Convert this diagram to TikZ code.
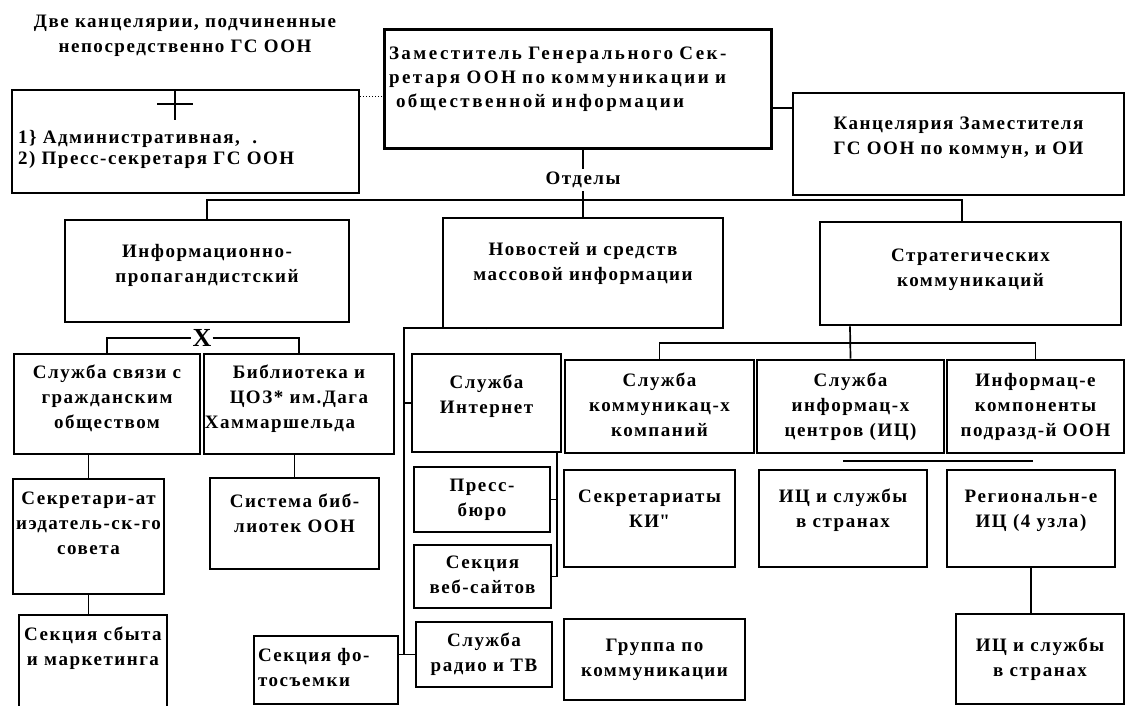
\documentclass[tikz,border=0pt]{standalone}
\usepackage{fontspec}
\setmainfont[LetterSpace=8]{Liberation Serif}

\begin{document}
\begin{tikzpicture}[x=1pt,y=-1pt]
\tikzstyle{svyaz}=[line width=1.7pt]
\tikzset{otdel/.style={draw,line width=2.6pt,align=center,inner sep=3pt,text depth=#1,
font=\bfseries\fontsize{19}{25}\selectfont},
otdel/.default={4pt},
nadpis/.style={align=center,font=\bfseries\fontsize{19}{25}\selectfont}}
\useasboundingbox (0,0) rectangle (1126,706);
% verkhnii uroven
\node [nadpis] (zagolovok) at (185,36) {Две канцелярии, подчиненные\\непосредственно ГС ООН};
\node [otdel=10pt,minimum width=347,minimum height=103,align=left,text width=335,
font=\bfseries\fontsize{19}{21}\selectfont] (kanc) at (185.5,141.5)
{1\} Административная,\ \ .\\2) Пресс-секретаря ГС ООН};
\node [otdel=72pt,line width=3pt,minimum width=387,minimum height=118,align=left,text width=377,
font=\bfseries\fontsize{19}{24}\selectfont\addfontfeature{LetterSpace=13}] (zam) at (577.5,89)
{Заместитель Генерального Сек-\\ретаря ООН по коммуникации и\\\hspace*{7pt}общественной информации};
\node [otdel=16pt,minimum width=331,minimum height=102] (kzam) at (958.5,144)
{Канцелярия Заместителя\\ГС ООН по коммун, и ОИ};
\node [nadpis] (otdely) at (583,180) {Отделы};
% otdely
\node [otdel=16pt,minimum width=284,minimum height=102] (info) at (207,271)
{Информационно-\\пропагандистский};
\node [otdel=24pt,minimum width=280,minimum height=110] (novosti) at (583,273)
{Новостей и средств\\массовой информации};
\node [otdel=12pt,minimum width=301,minimum height=103] (strat) at (970.5,273.5)
{Стратегических\\коммуникаций};
% sluzhby
\node [otdel=14pt,minimum width=186,minimum height=100] (svyazi) at (107,404)
{Служба связи с\\гражданским\\обществом};
\node [otdel=14pt,minimum width=190,minimum height=100] (biblio) at (299,404)
{Библиотека и\\ЦОЗ* им.Дага\\\hspace*{-38pt}Хаммаршельда};
\node [otdel=18pt,minimum width=149,minimum height=98] (inet) at (486.5,403)
{Служба\\Интернет};
\node [otdel,minimum width=189,minimum height=93] (komp) at (659.5,406.5)
{Служба\\коммуникац-х\\компаний};
\node [otdel,minimum width=187,minimum height=93] (centry) at (850.5,406.5)
{Служба\\информац-х\\центров (ИЦ)};
\node [otdel,minimum width=177,minimum height=93] (podr) at (1035.5,406.5)
{Информац-е\\компоненты\\подразд-й ООН};
% nizhnii uroven
\node [otdel=26pt,minimum width=149,minimum height=115] (sekr) at (88.5,536.5)
{Секретари-ат\\иэдатель-ск-го\\совета};
\node [otdel=35pt,minimum width=148,minimum height=97] (sbyt) at (93,663.5)
{Секция сбыта\\и маркетинга};
\node [otdel=20pt,minimum width=169,minimum height=91] (sistema) at (294.5,523.5)
{Система биб-\\лиотек ООН};
\node [otdel,minimum width=136,minimum height=65] (press) at (482,499.5) {Пресс-\\бюро};
\node [otdel,minimum width=137,minimum height=63] (web) at (482.5,576.5) {Секция\\веб-сайтов};
\node [otdel,minimum width=136,minimum height=65] (radio) at (484,654.5) {Служба\\радио и ТВ};
\node [otdel=30pt,minimum width=144,minimum height=68,align=left,text width=136] (foto) at (326,670)
{Секция фо-\\тосъемки};
\node [otdel=20pt,minimum width=171,minimum height=97] (ki) at (649.5,518.5)
{Секретариаты\\КИ{\XeTeXglyph\XeTeXcharglyph"22}};
\node [otdel=20pt,minimum width=168,minimum height=97] (ic) at (843,518.5) {ИЦ и службы\\в странах};
\node [otdel=20pt,minimum width=168,minimum height=97] (region) at (1031,518.5)
{Региональн-е\\ИЦ (4 узла)};
\node [otdel,minimum width=168,minimum height=90] (icdva) at (1040,659) {ИЦ и службы\\в странах};
\node [otdel,minimum width=181,minimum height=81] (gruppa) at (654.5,659.5) {Группа по\\коммуникации};
% svyazi
\draw [line width=2pt] (157,104) -- (193,104) (175,91) -- (175,120);
\draw [line width=1pt,dotted] (kanc.east |- 0,97) -- (zam.west |- 0,97);
\draw [svyaz] (zam.east |- 0,108) -- (kzam.west |- 0,108);
\draw [svyaz] (zam.south -| otdely) -- (otdely.north);
\coordinate (shina) at (583,200);
\coordinate (sprava) at (962,200);
\draw [svyaz] (otdely.south) -- (shina) -- (novosti.north);
\draw [svyaz] (info.north) |- (shina) -- (sprava) -- (sprava |- strat.north);
\node [font=\bfseries\fontsize{26}{26}\selectfont,inner sep=1pt] (iks) at (202,338) {X};
\draw [svyaz] (svyazi.north) |- (iks.west);
\draw [svyaz] (iks.east) -| (biblio.north);
\coordinate (nuzel) at (404,328);
\draw [svyaz] (novosti.south -| 487,0) |- (nuzel) -- (nuzel |- radio.west);
\draw [svyaz] (nuzel |- inet.west) -- (inet.west);
\draw [svyaz] (foto.east |- radio.west) -- (radio.west);
\coordinate (iuzel) at (557,452);
\draw [svyaz] (inet.south -| iuzel) |- (web.east);
\draw [svyaz] (press.east) -- (press.east -| iuzel);
\coordinate (suzel) at (850,343);
\draw [svyaz] (strat.south -| suzel) -- (centry.north);
\draw [svyaz] (komp.north) |- (suzel) -| (podr.north);
\draw [svyaz] (sekr.north |- svyazi.south) -- (sekr.north);
\draw [svyaz] (sekr.south) -- (sekr.south |- sbyt.north);
\draw [svyaz] (sistema.north |- biblio.south) -- (sistema.north);
\draw [svyaz] (region.south) -- (region.south |- icdva.north);
\draw [svyaz] (843,461) -- (1033,461);
\end{tikzpicture}
\end{document}
